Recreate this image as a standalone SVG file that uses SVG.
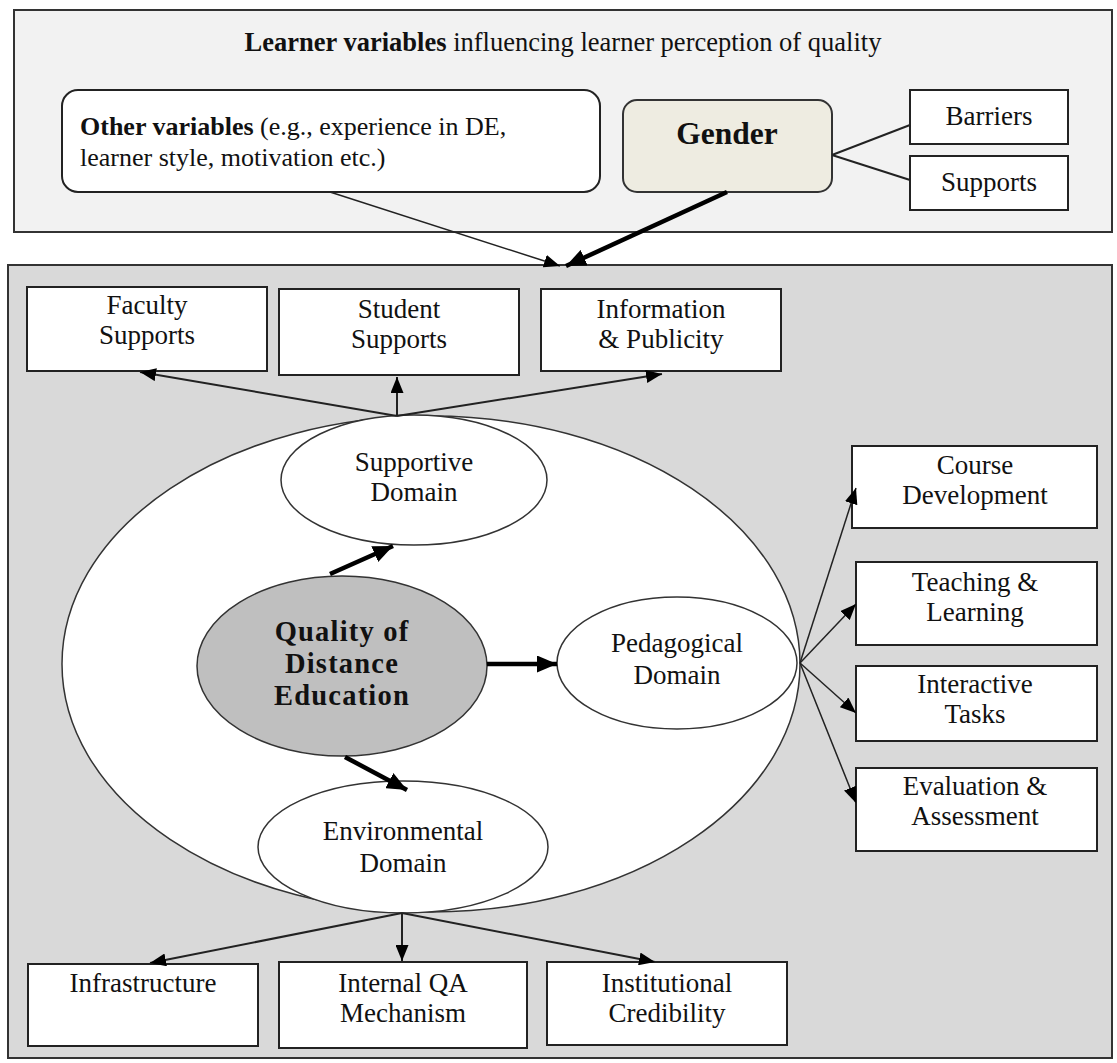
<svg xmlns="http://www.w3.org/2000/svg" width="1117" height="1063" viewBox="0 0 1117 1063">
<defs>
<style>
text{font-family:"Liberation Serif","Times New Roman",serif;fill:#111;}
.t{font-size:27px;text-anchor:middle;}
.box{fill:#fff;stroke:#222;stroke-width:2;}
.ell{fill:#fff;stroke:#333;stroke-width:1.5;}
.ln{stroke:#222;stroke-width:2;fill:none;}
.thin{stroke:#222;stroke-width:1.5;fill:none;}
.thick{stroke:#000;stroke-width:4.5;fill:none;}
.q{font-size:28.5px;font-weight:bold;text-anchor:middle;letter-spacing:1.2px;}
</style>
<marker id="ah" markerUnits="userSpaceOnUse" markerWidth="17" markerHeight="13" refX="16" refY="6.5" orient="auto"><path d="M0,0 L16,6.5 L0,13 z" fill="#000"/></marker>
<marker id="ahb" markerUnits="userSpaceOnUse" markerWidth="21" markerHeight="17" refX="20" refY="8.5" orient="auto"><path d="M0,0 L20,8.5 L0,17 z" fill="#000"/></marker>
</defs>
<rect x="0" y="0" width="1117" height="1063" fill="#fff"/>
<g id="learner-panel">
<rect x="14" y="10" width="1098" height="222" fill="#f2f2f2" stroke="#333" stroke-width="2"/>
<text x="563" y="51" style="font-size:26.5px;text-anchor:middle"><tspan font-weight="bold">Learner variables</tspan> influencing learner perception of quality</text>
</g>
<g id="quality-panel">
<rect x="8" y="265" width="1104" height="793" fill="#d9d9d9" stroke="#333" stroke-width="2"/>
</g>
<g id="other-variables">
<rect x="62" y="90" width="538" height="102" rx="16" class="box" stroke="#333"/>
<text x="80" y="135" style="font-size:26px"><tspan font-weight="bold">Other variables</tspan> (e.g.,  experience in DE,</text>
<text x="80" y="166" style="font-size:26px">learner style, motivation etc.)</text>
</g>
<g id="gender">
<rect x="623" y="100" width="209" height="92" rx="14" fill="#eeece1" stroke="#333" stroke-width="2"/>
<text x="727" y="144" style="font-size:31.5px;font-weight:bold;text-anchor:middle">Gender</text>
</g>
<g id="barriers">
<rect x="910" y="90" width="158" height="54" class="box"/>
<text x="989" y="125" class="t">Barriers</text>
</g>
<g id="supports">
<rect x="910" y="156" width="158" height="54" class="box"/>
<text x="989" y="191" class="t">Supports</text>
</g>
<g id="big-ellipse">
<ellipse cx="431" cy="664" rx="369" ry="248" class="ell"/>
</g>
<g id="faculty-supports">
<rect x="27" y="287" width="240" height="84" class="box"/>
<text x="147" y="314" class="t">Faculty</text>
<text x="147" y="344" class="t">Supports</text>
</g>
<g id="student-supports">
<rect x="279" y="289" width="240" height="86" class="box"/>
<text x="399" y="318" class="t">Student</text>
<text x="399" y="348" class="t">Supports</text>
</g>
<g id="information-publicity">
<rect x="541" y="289" width="240" height="82" class="box"/>
<text x="661" y="318" class="t">Information</text>
<text x="661" y="348" class="t">&amp; Publicity</text>
</g>
<g id="supportive-domain">
<ellipse cx="414" cy="480" rx="133" ry="65" class="ell"/>
<text x="414" y="471" class="t">Supportive</text>
<text x="414" y="501" class="t">Domain</text>
</g>
<g id="quality-de">
<ellipse cx="342" cy="666" rx="145" ry="90" fill="#bfbfbf" stroke="#333" stroke-width="1.5"/>
<text x="342" y="641" class="q">Quality of</text>
<text x="342" y="673" class="q">Distance</text>
<text x="342" y="705" class="q">Education</text>
</g>
<g id="pedagogical-domain">
<ellipse cx="677" cy="663" rx="120" ry="66" class="ell"/>
<text x="677" y="652" class="t">Pedagogical</text>
<text x="677" y="684" class="t">Domain</text>
</g>
<g id="environmental-domain">
<ellipse cx="403" cy="847" rx="145" ry="66" class="ell"/>
<text x="403" y="840" class="t">Environmental</text>
<text x="403" y="872" class="t">Domain</text>
</g>
<g id="course-development">
<rect x="852" y="446" width="245" height="82" class="box"/>
<text x="975" y="474" class="t">Course</text>
<text x="975" y="504" class="t">Development</text>
</g>
<g id="teaching-learning">
<rect x="856" y="562" width="241" height="83" class="box"/>
<text x="975" y="591" class="t">Teaching &amp;</text>
<text x="975" y="621" class="t">Learning</text>
</g>
<g id="interactive-tasks">
<rect x="856" y="666" width="241" height="75" class="box"/>
<text x="975" y="693" class="t">Interactive</text>
<text x="975" y="723" class="t">Tasks</text>
</g>
<g id="evaluation-assessment">
<rect x="856" y="768" width="241" height="83" class="box"/>
<text x="975" y="795" class="t">Evaluation &amp;</text>
<text x="975" y="825" class="t">Assessment</text>
</g>
<g id="infrastructure">
<rect x="28" y="964" width="230" height="82" class="box"/>
<text x="143" y="992" class="t">Infrastructure</text>
</g>
<g id="internal-qa">
<rect x="279" y="962" width="248" height="86" class="box"/>
<text x="403" y="992" class="t">Internal QA</text>
<text x="403" y="1022" class="t">Mechanism</text>
</g>
<g id="institutional-credibility">
<rect x="547" y="962" width="240" height="83" class="box"/>
<text x="667" y="992" class="t">Institutional</text>
<text x="667" y="1022" class="t">Credibility</text>
</g>
<g id="connectors">
<line x1="832" y1="155" x2="910" y2="125" class="ln"/>
<line x1="832" y1="155" x2="910" y2="180" class="ln"/>
<line x1="330" y1="192" x2="560" y2="266" class="thin" marker-end="url(#ah)"/>
<line x1="727" y1="192" x2="566" y2="266" class="thick" marker-end="url(#ahb)"/>
<line x1="397" y1="416" x2="140" y2="372" class="ln" marker-end="url(#ah)"/>
<line x1="397" y1="416" x2="397" y2="377" class="ln" marker-end="url(#ah)"/>
<line x1="397" y1="416" x2="662" y2="374" class="ln" marker-end="url(#ah)"/>
<line x1="330" y1="574" x2="393" y2="546" class="thick" marker-end="url(#ahb)"/>
<line x1="487" y1="664" x2="557" y2="664" class="thick" marker-end="url(#ahb)"/>
<line x1="345" y1="757" x2="407" y2="790" class="thick" marker-end="url(#ahb)"/>
<line x1="800" y1="663" x2="856" y2="488" class="thin" marker-end="url(#ah)"/>
<line x1="800" y1="663" x2="856" y2="604" class="thin" marker-end="url(#ah)"/>
<line x1="800" y1="663" x2="856" y2="713" class="thin" marker-end="url(#ah)"/>
<line x1="800" y1="663" x2="856" y2="803" class="thin" marker-end="url(#ah)"/>
<line x1="402" y1="913" x2="150" y2="963" class="ln" marker-end="url(#ah)"/>
<line x1="402" y1="913" x2="402" y2="961" class="ln" marker-end="url(#ah)"/>
<line x1="402" y1="913" x2="655" y2="962" class="ln" marker-end="url(#ah)"/>
</g>
</svg>
